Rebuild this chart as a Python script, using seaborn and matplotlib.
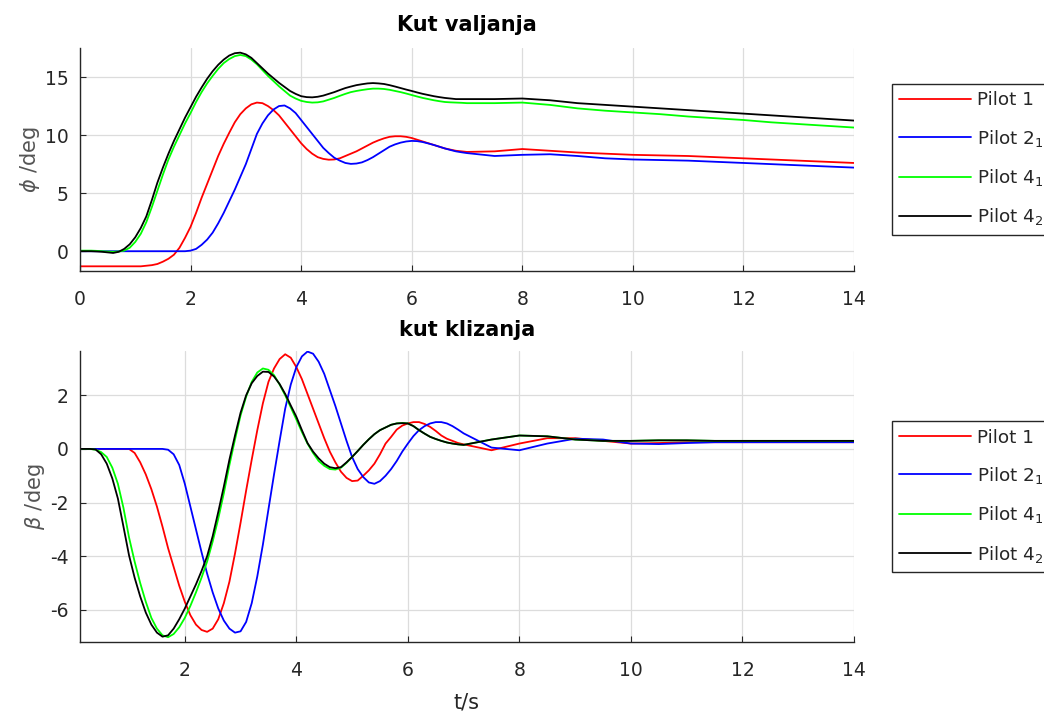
import matplotlib
matplotlib.use("Agg")
import matplotlib.pyplot as plt
import seaborn as sns
import pandas as pd

# === DATA ===
t = [0.0, 0.1, 0.2, 0.3, 0.4, 0.5, 0.6, 0.7, 0.8, 0.9,
     1.0, 1.1, 1.2, 1.3, 1.4, 1.5, 1.6, 1.7, 1.8, 1.9,
     2.0, 2.1, 2.2, 2.3, 2.4, 2.5, 2.6, 2.7, 2.8, 2.9,
     3.0, 3.1, 3.2, 3.3, 3.4, 3.5, 3.6, 3.7, 3.8, 3.9,
     4.0, 4.1, 4.2, 4.3, 4.4, 4.5, 4.6, 4.7, 4.8, 4.9,
     5.0, 5.1, 5.2, 5.3, 5.4, 5.5, 5.6, 5.7, 5.8, 5.9,
     6.0, 6.1, 6.2, 6.3, 6.4, 6.5, 6.6, 6.7, 6.8, 6.9,
     7.0, 7.5, 8.0, 8.5, 9.0, 9.5, 10.0, 10.5, 11.0, 11.5, 12.0, 12.5, 13.0, 13.5, 14.0]

pilots = ["Pilot 1", "Pilot 2$_1$", "Pilot 4$_1$", "Pilot 4$_2$"]

# roll angle (phi), deg
phi_p1 = [-1.3, -1.3, -1.3, -1.3, -1.3, -1.3, -1.3, -1.3, -1.3, -1.3,
          -1.3, -1.3, -1.25, -1.2, -1.1, -0.9, -0.65, -0.3, 0.3, 1.15,
          2.1, 3.3, 4.6, 5.8, 7.0, 8.2, 9.25, 10.2, 11.1, 11.8,
          12.3, 12.65, 12.8, 12.75, 12.5, 12.15, 11.7, 11.1, 10.5, 9.9,
          9.3, 8.8, 8.4, 8.1, 7.95, 7.88, 7.9, 8.0, 8.2, 8.4,
          8.6, 8.85, 9.1, 9.35, 9.55, 9.72, 9.85, 9.9, 9.9, 9.85,
          9.75, 9.6, 9.45, 9.3, 9.15, 9.0, 8.85, 8.75, 8.65, 8.6,
          8.55, 8.6, 8.8, 8.65, 8.5, 8.4, 8.3, 8.25, 8.2, 8.1, 8.0, 7.9, 7.8, 7.7, 7.6]
phi_p21 = [0.0, 0.0, 0.0, 0.0, 0.0, 0.0, 0.0, 0.0, 0.0, 0.0,
           0.0, 0.0, 0.0, 0.0, 0.0, 0.0, 0.0, 0.0, 0.0, 0.0,
           0.05, 0.2, 0.55, 1.0, 1.6, 2.4, 3.3, 4.3, 5.3, 6.4,
           7.5, 8.8, 10.1, 11.0, 11.7, 12.2, 12.5, 12.55, 12.3, 11.9,
           11.3, 10.7, 10.1, 9.5, 8.9, 8.45, 8.05, 7.8, 7.6, 7.52,
           7.55, 7.65, 7.85, 8.1, 8.4, 8.7, 9.0, 9.2, 9.35, 9.45,
           9.5, 9.48, 9.4, 9.28, 9.15, 9.0, 8.85, 8.72, 8.6, 8.52,
           8.45, 8.2, 8.3, 8.35, 8.2, 8.0, 7.9, 7.85, 7.8, 7.7, 7.6, 7.5, 7.4, 7.3, 7.2]
phi_p41 = [0.05, 0.05, 0.05, 0.03, 0.0, -0.03, -0.05, -0.02, 0.05, 0.3,
           0.8, 1.5, 2.5, 3.8, 5.2, 6.6, 7.9, 9.0, 10.0, 11.0,
           11.9, 12.85, 13.7, 14.45, 15.1, 15.7, 16.2, 16.55, 16.8, 16.9,
           16.8, 16.5, 16.1, 15.6, 15.1, 14.65, 14.2, 13.8, 13.4, 13.15,
           12.95, 12.85, 12.8, 12.82, 12.9, 13.05, 13.2, 13.38, 13.55, 13.7,
           13.8, 13.88, 13.95, 14.0, 14.0, 13.97, 13.9, 13.8, 13.7, 13.58,
           13.45, 13.32, 13.2, 13.1, 13.0, 12.92, 12.85, 12.82, 12.8, 12.78,
           12.75, 12.75, 12.8, 12.6, 12.3, 12.1, 11.95, 11.8, 11.6, 11.45, 11.3, 11.1, 10.95, 10.8, 10.65]
phi_p42 = [0.0, 0.0, 0.0, -0.02, -0.05, -0.1, -0.15, -0.05, 0.2, 0.6,
           1.2, 2.0, 3.0, 4.4, 5.9, 7.2, 8.4, 9.5, 10.5, 11.5,
           12.4, 13.3, 14.1, 14.85, 15.5, 16.05, 16.5, 16.85, 17.05, 17.1,
           16.95, 16.65, 16.2, 15.75, 15.3, 14.9, 14.5, 14.15, 13.8, 13.55,
           13.35, 13.27, 13.25, 13.3, 13.4, 13.55, 13.7, 13.88, 14.05, 14.18,
           14.3, 14.38, 14.45, 14.48, 14.45, 14.4, 14.3, 14.18, 14.05, 13.92,
           13.8, 13.67, 13.55, 13.45, 13.35, 13.27, 13.2, 13.15, 13.1, 13.1,
           13.1, 13.1, 13.15, 13.0, 12.75, 12.6, 12.45, 12.3, 12.15, 12.0, 11.85, 11.7, 11.55, 11.4, 11.25]

# sideslip angle (beta), deg
beta_p1 = [0.0, 0.0, 0.0, 0.0, 0.0, 0.0, 0.0, 0.0, 0.0, 0.0,
           0.0, -0.15, -0.5, -0.95, -1.5, -2.15, -2.9, -3.7, -4.4, -5.1,
           -5.7, -6.2, -6.55, -6.75, -6.82, -6.7, -6.35, -5.75, -4.95, -3.9,
           -2.75, -1.55, -0.4, 0.7, 1.7, 2.5, 3.0, 3.35, 3.53, 3.4,
           3.05, 2.6, 2.05, 1.5, 0.95, 0.4, -0.1, -0.5, -0.85, -1.08,
           -1.2, -1.18, -1.0, -0.8, -0.55, -0.2, 0.2, 0.45, 0.72, 0.87,
           0.95, 1.0, 1.0, 0.93, 0.82, 0.67, 0.5, 0.38, 0.3, 0.22,
           0.17, -0.05, 0.2, 0.4, 0.4, 0.3, 0.2, 0.22, 0.25, 0.25, 0.25, 0.25, 0.25, 0.25, 0.25]
beta_p21 = [0.0, 0.0, 0.0, 0.0, 0.0, 0.0, 0.0, 0.0, 0.0, 0.0,
            0.0, 0.0, 0.0, 0.0, 0.0, 0.0, 0.0, -0.03, -0.2, -0.6,
            -1.3, -2.15, -3.0, -3.85, -4.65, -5.35, -5.95, -6.4, -6.7, -6.85,
            -6.8, -6.45, -5.75, -4.75, -3.57, -2.25, -0.95, 0.3, 1.5, 2.4,
            3.05, 3.45, 3.63, 3.55, 3.25, 2.8, 2.2, 1.6, 0.95, 0.3,
            -0.3, -0.75, -1.05, -1.25, -1.3, -1.2, -1.0, -0.75, -0.45, -0.1,
            0.2, 0.48, 0.7, 0.85, 0.95, 1.0, 1.0, 0.95, 0.85, 0.72,
            0.58, 0.05, -0.05, 0.2, 0.38, 0.35, 0.2, 0.18, 0.22, 0.25, 0.25, 0.25, 0.25, 0.25, 0.25]
beta_p41 = [0.0, 0.0, 0.0, 0.0, -0.03, -0.12, -0.3, -0.7, -1.3, -2.2,
            -3.3, -4.2, -5.0, -5.7, -6.3, -6.7, -6.95, -7.02, -6.9, -6.65,
            -6.3, -5.85, -5.35, -4.8, -4.2, -3.45, -2.6, -1.65, -0.6, 0.35,
            1.25, 1.95, 2.5, 2.85, 3.0, 2.95, 2.75, 2.4, 2.0, 1.55,
            1.1, 0.63, 0.2, -0.15, -0.45, -0.63, -0.75, -0.77, -0.7, -0.52,
            -0.3, -0.08, 0.15, 0.36, 0.55, 0.7, 0.8, 0.9, 0.95, 0.97,
            0.95, 0.85, 0.7, 0.57, 0.45, 0.37, 0.3, 0.24, 0.2, 0.17,
            0.15, 0.35, 0.5, 0.47, 0.35, 0.3, 0.3, 0.32, 0.32, 0.3, 0.3, 0.3, 0.3, 0.3, 0.3]
beta_p42 = [0.0, 0.0, 0.0, 0.0, -0.02, -0.2, -0.55, -1.1, -1.85, -2.9,
            -3.97, -4.8, -5.5, -6.1, -6.55, -6.85, -7.0, -6.95, -6.7, -6.35,
            -5.95, -5.5, -5.05, -4.55, -4.0, -3.25, -2.35, -1.4, -0.4, 0.5,
            1.35, 2.0, 2.45, 2.72, 2.88, 2.87, 2.7, 2.42, 2.05, 1.62,
            1.2, 0.7, 0.22, -0.1, -0.35, -0.55, -0.68, -0.72, -0.68, -0.5,
            -0.3, -0.08, 0.15, 0.36, 0.55, 0.7, 0.8, 0.9, 0.95, 0.96,
            0.95, 0.85, 0.7, 0.57, 0.45, 0.37, 0.3, 0.24, 0.2, 0.17,
            0.15, 0.35, 0.5, 0.47, 0.35, 0.3, 0.3, 0.32, 0.32, 0.3, 0.3, 0.3, 0.3, 0.3, 0.3]

colors = {"Pilot 1": "#ff0000", "Pilot 2$_1$": "#0000ff",
          "Pilot 4$_1$": "#00ff00", "Pilot 4$_2$": "#000000"}


def to_long(series):
    frames = []
    for name, vals in zip(pilots, series):
        frames.append(pd.DataFrame({"t": t, "val": vals, "Pilot": name}))
    return pd.concat(frames, ignore_index=True)


df_phi = to_long([phi_p1, phi_p21, phi_p41, phi_p42])
df_beta = to_long([beta_p1, beta_p21, beta_p41, beta_p42])

# === STYLE ===
sns.set_theme(style="whitegrid")
plt.rcParams["font.family"] = ["DejaVu Sans"]
plt.rcParams["mathtext.fontset"] = "dejavusans"
plt.rcParams["axes.unicode_minus"] = False

fig = plt.figure(figsize=(10.44, 7.11), dpi=100)
ax1 = fig.add_axes([0.0766, 0.6189, 0.7414, 0.3136])
ax2 = fig.add_axes([0.0766, 0.0970, 0.7414, 0.4093])

txt = "#262626"
for ax, df, ylab, title, tpad in [(ax1, df_phi, r"$\phi$ /deg", "Kut valjanja", 12),
                                  (ax2, df_beta, r"$\beta$ /deg", "kut klizanja", 11)]:
    sns.lineplot(data=df, x="t", y="val", hue="Pilot", palette=colors,
                 hue_order=pilots, linewidth=1.3, ax=ax)
    ax.set_title(title, fontsize=15, fontweight="bold", color="black", pad=tpad)
    ax.set_ylabel(ylab, fontsize=15, color="#555555", labelpad=2)
    ax.set_xlabel("")
    ax.set_facecolor("white")
    ax.grid(True, color="#dcdcdc", linewidth=0.9)
    for s in ["top", "right"]:
        ax.spines[s].set_visible(False)
    for s in ["left", "bottom"]:
        ax.spines[s].set_color("#262626")
        ax.spines[s].set_linewidth(1.0)
    ax.tick_params(axis="both", labelsize=13.5, colors=txt, direction="in",
                   length=4, width=0.8, left=True, bottom=True)
    ax.tick_params(axis="x", pad=14)
    ax.tick_params(axis="y", pad=8)
    sns.move_legend(ax, "center left", bbox_to_anchor=(1.037, 0.5), title=None,
                    frameon=True, fancybox=False, fontsize=13.2, handlelength=3.9,
                    labelspacing=1.0, borderpad=0.4, handletextpad=0.33,
                    edgecolor="#262626", framealpha=1)
    ax.get_legend().get_frame().set_linewidth(1.0)

ax1.set_xlim(0, 14)
ax1.set_ylim(-1.7, 17.5)
ax1.set_xticks(range(0, 15, 2))
ax1.set_yticks([0, 5, 10, 15])

ax2.set_xlim(0.12, 14)
ax2.set_ylim(-7.2, 3.65)
ax2.set_xticks(range(2, 15, 2))
ax2.set_yticks([-6, -4, -2, 0, 2])
ax2.set_xlabel("t/s", fontsize=15, color=txt, labelpad=9)

fig.savefig("out.png", dpi=100)
